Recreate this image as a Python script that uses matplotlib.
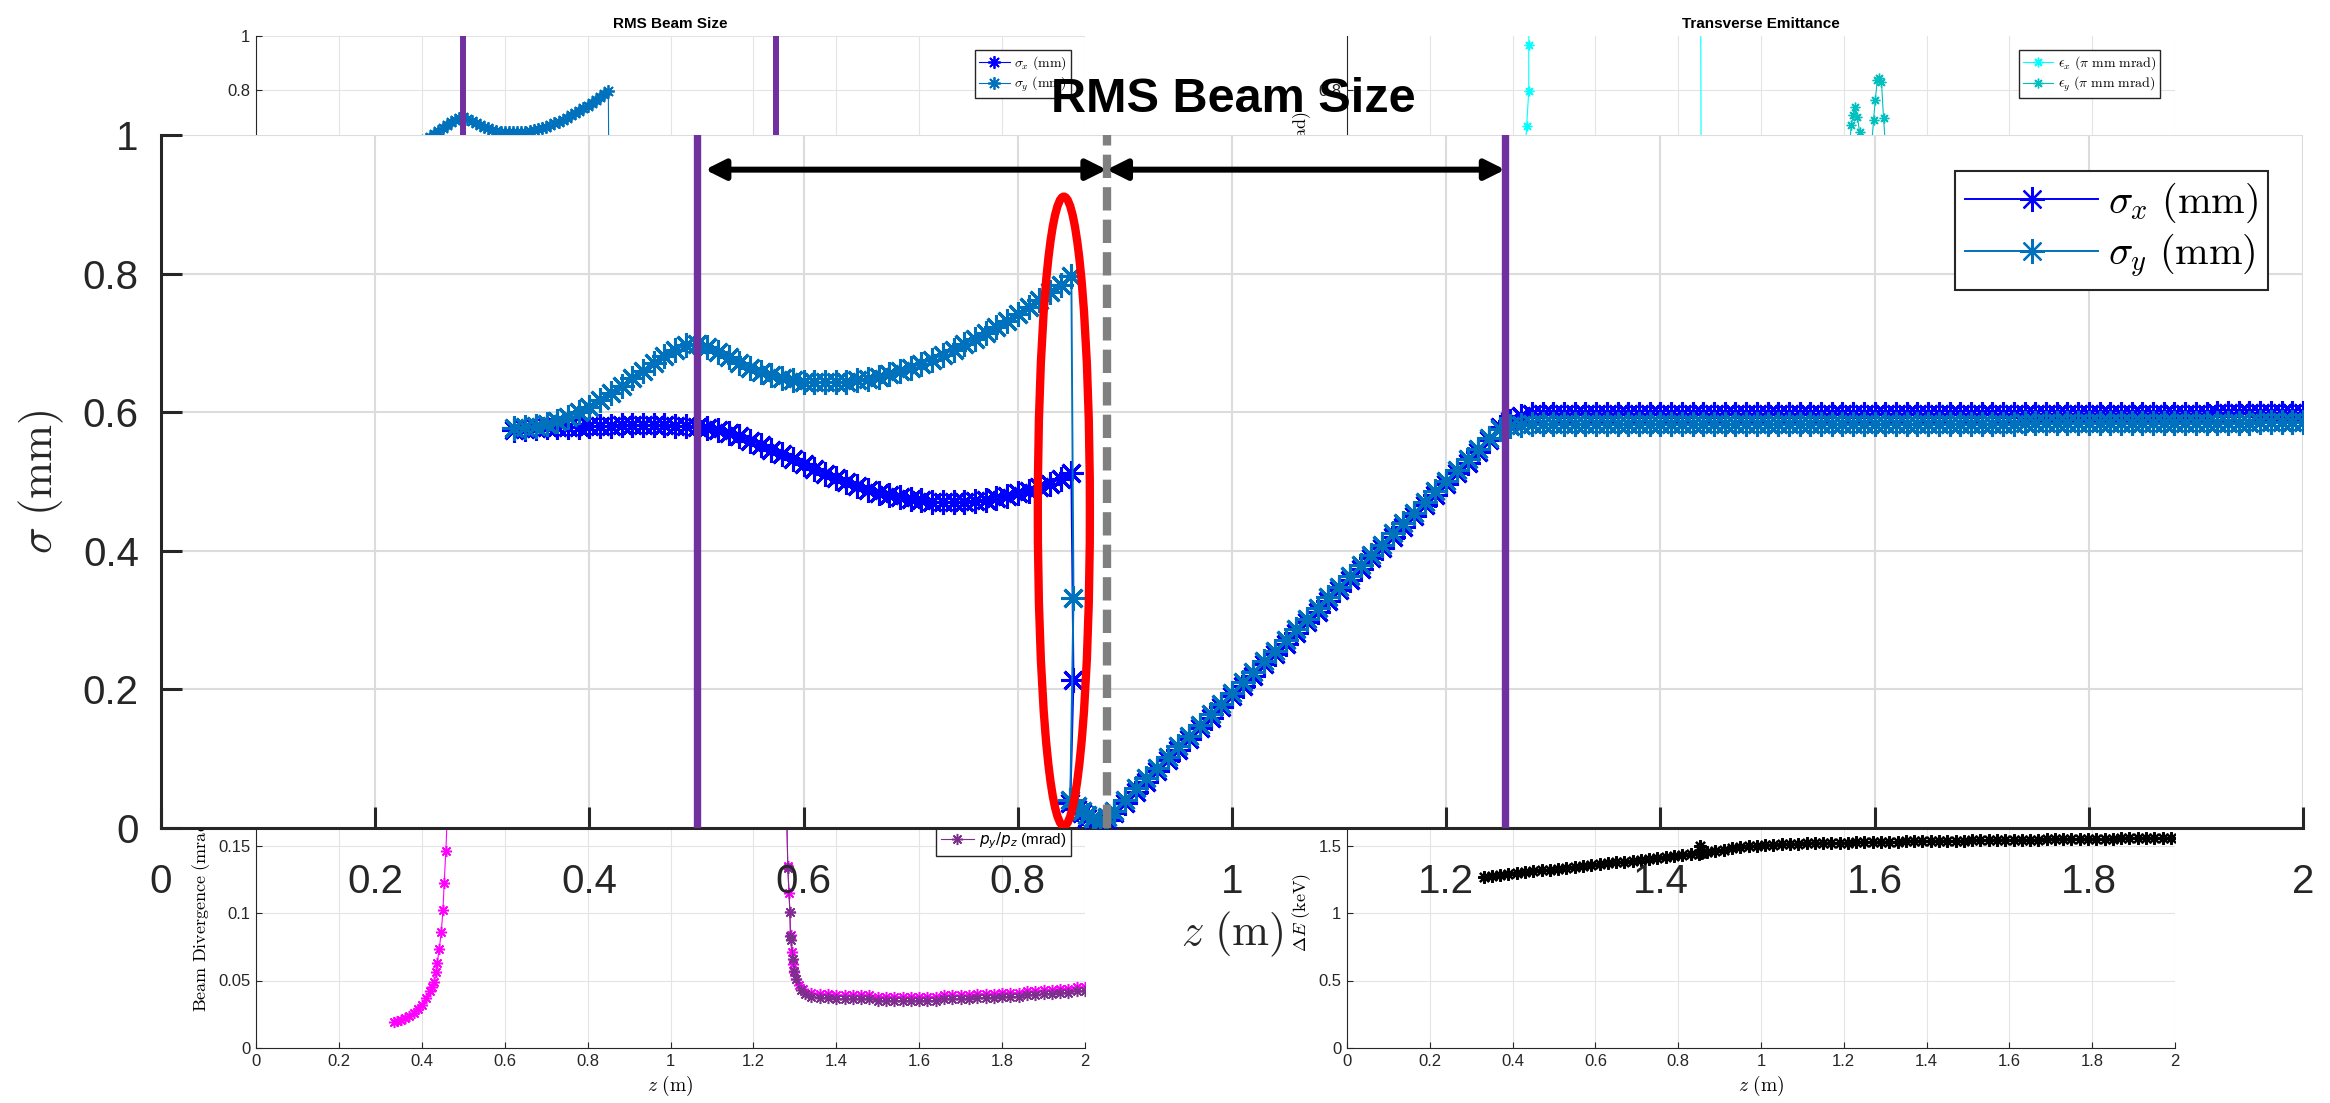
import numpy as np
import matplotlib
matplotlib.use('Agg')
import matplotlib.pyplot as plt
from matplotlib.patches import Ellipse
from matplotlib.ticker import FuncFormatter
from matplotlib.font_manager import FontProperties

plt.rcParams['font.family'] = ['Liberation Sans', 'DejaVu Sans']
plt.rcParams['mathtext.fontset'] = 'cm'

# ---------------- RMS beam size (mm) ----------------
z_focus = [0.33, 0.34, 0.35, 0.36, 0.37, 0.38, 0.39, 0.40, 0.41, 0.42,
           0.43, 0.44, 0.45, 0.46, 0.47, 0.48, 0.49, 0.50, 0.51, 0.52,
           0.53, 0.54, 0.55, 0.56, 0.57, 0.58, 0.59, 0.60, 0.61, 0.62,
           0.63, 0.64, 0.65, 0.66, 0.67, 0.68, 0.69, 0.70, 0.71, 0.72,
           0.73, 0.74, 0.75, 0.76, 0.77, 0.78, 0.79, 0.80, 0.81, 0.82,
           0.83, 0.84, 0.85]
sx_focus = [0.575, 0.576, 0.577, 0.578, 0.578, 0.579, 0.579, 0.580, 0.580, 0.580,
            0.581, 0.581, 0.581, 0.581, 0.581, 0.580, 0.580, 0.579, 0.577, 0.574,
            0.570, 0.565, 0.559, 0.553, 0.546, 0.539, 0.532, 0.525, 0.518, 0.511,
            0.505, 0.499, 0.493, 0.488, 0.484, 0.480, 0.477, 0.475, 0.473, 0.471,
            0.470, 0.470, 0.471, 0.472, 0.474, 0.476, 0.479, 0.483, 0.487, 0.492,
            0.497, 0.504, 0.512]
sy_focus = [0.577, 0.578, 0.580, 0.583, 0.587, 0.593, 0.600, 0.608, 0.617, 0.627,
            0.638, 0.649, 0.660, 0.671, 0.681, 0.690, 0.697, 0.699, 0.694, 0.687,
            0.679, 0.671, 0.664, 0.658, 0.653, 0.649, 0.646, 0.644, 0.643, 0.643,
            0.643, 0.644, 0.646, 0.648, 0.651, 0.655, 0.659, 0.664, 0.670, 0.676,
            0.683, 0.690, 0.698, 0.706, 0.714, 0.723, 0.732, 0.742, 0.752, 0.762,
            0.773, 0.784, 0.796]

z_drop = [0.852, 0.849, 0.855, 0.860, 0.865, 0.870, 0.877, 0.883, 0.890]
sx_drop = [0.213, 0.036, 0.028, 0.021, 0.015, 0.010, 0.005, 0.012, 0.021]
sy_drop = [0.332, 0.040, 0.032, 0.025, 0.019, 0.014, 0.009, 0.016, 0.025]

z_rise = [0.90, 0.91, 0.92, 0.93, 0.94, 0.95, 0.96, 0.97, 0.98, 0.99,
          1.00, 1.01, 1.02, 1.03, 1.04, 1.05, 1.06, 1.07, 1.08, 1.09,
          1.10, 1.11, 1.12, 1.13, 1.14, 1.15, 1.16, 1.17, 1.18, 1.19,
          1.20, 1.21, 1.22, 1.23, 1.24, 1.25]
sx_rise = [0.036, 0.052, 0.067, 0.082, 0.098, 0.113, 0.128, 0.144, 0.159, 0.174,
           0.190, 0.205, 0.220, 0.236, 0.251, 0.266, 0.282, 0.297, 0.312, 0.328,
           0.343, 0.358, 0.374, 0.389, 0.404, 0.420, 0.435, 0.450, 0.466, 0.481,
           0.496, 0.512, 0.527, 0.542, 0.560, 0.578]
sy_rise = [0.041, 0.057, 0.072, 0.087, 0.103, 0.118, 0.133, 0.149, 0.164, 0.179,
           0.195, 0.210, 0.225, 0.241, 0.256, 0.271, 0.287, 0.302, 0.317, 0.333,
           0.348, 0.363, 0.379, 0.394, 0.409, 0.425, 0.440, 0.455, 0.471, 0.486,
           0.501, 0.517, 0.532, 0.547, 0.563, 0.576]

z_flat = [1.26, 1.27, 1.28, 1.29, 1.30, 1.31, 1.32, 1.33, 1.34, 1.35,
          1.36, 1.37, 1.38, 1.39, 1.40, 1.41, 1.42, 1.43, 1.44, 1.45,
          1.46, 1.47, 1.48, 1.49, 1.50, 1.51, 1.52, 1.53, 1.54, 1.55,
          1.56, 1.57, 1.58, 1.59, 1.60, 1.61, 1.62, 1.63, 1.64, 1.65,
          1.66, 1.67, 1.68, 1.69, 1.70, 1.71, 1.72, 1.73, 1.74, 1.75,
          1.76, 1.77, 1.78, 1.79, 1.80, 1.81, 1.82, 1.83, 1.84, 1.85,
          1.86, 1.87, 1.88, 1.89, 1.90, 1.91, 1.92, 1.93, 1.94, 1.95,
          1.96, 1.97, 1.98, 1.99, 2.00]
sx_flat = [0.588, 0.594, 0.597, 0.598, 0.598, 0.598, 0.598, 0.598, 0.598, 0.598,
           0.598, 0.598, 0.597, 0.597, 0.597, 0.597, 0.597, 0.597, 0.597, 0.597,
           0.597, 0.597, 0.597, 0.597, 0.597, 0.597, 0.597, 0.597, 0.597, 0.597,
           0.597, 0.597, 0.597, 0.597, 0.597, 0.597, 0.597, 0.597, 0.597, 0.597,
           0.597, 0.597, 0.597, 0.597, 0.597, 0.597, 0.597, 0.597, 0.597, 0.597,
           0.597, 0.597, 0.597, 0.598, 0.598, 0.598, 0.598, 0.598, 0.598, 0.598,
           0.598, 0.598, 0.598, 0.598, 0.598, 0.598, 0.599, 0.599, 0.599, 0.599,
           0.599, 0.599, 0.599, 0.599, 0.599]
sy_flat = [0.580, 0.582, 0.583, 0.583, 0.583, 0.583, 0.583, 0.583, 0.583, 0.583,
           0.583, 0.583, 0.583, 0.583, 0.583, 0.583, 0.583, 0.583, 0.583, 0.583,
           0.583, 0.583, 0.583, 0.583, 0.583, 0.583, 0.583, 0.583, 0.583, 0.583,
           0.583, 0.583, 0.583, 0.583, 0.583, 0.583, 0.583, 0.583, 0.583, 0.583,
           0.583, 0.583, 0.583, 0.583, 0.583, 0.583, 0.583, 0.583, 0.584, 0.584,
           0.584, 0.584, 0.584, 0.584, 0.584, 0.584, 0.584, 0.584, 0.584, 0.584,
           0.585, 0.585, 0.585, 0.585, 0.585, 0.585, 0.585, 0.585, 0.585, 0.585,
           0.586, 0.586, 0.586, 0.586, 0.586]

z_sigma = z_focus + z_drop + z_rise + z_flat
sigma_x = sx_focus + sx_drop + sx_rise + sx_flat
sigma_y = sy_focus + sy_drop + sy_rise + sy_flat

# element edges, waist position and annotation values
quad_edges = [0.5, 1.255]
z_waist = 0.883
arrow_y = 0.95
arrow_left = 0.508
ellipse_center = (0.843, 0.457)
ellipse_size = (0.0486, 0.908)

# ---------------- transverse emittance ----------------
z_ex = [0.33, 0.36, 0.39, 0.41, 0.42, 0.428, 0.434, 0.439, 0.439, 0.443, 0.60,
        0.853, 0.856, 1.00, 1.30, 1.60, 2.00]
eps_x = [0.08, 0.09, 0.12, 0.20, 0.33, 0.52, 0.667, 0.796, 0.967, 1.35, 2.0,
         2.0, 0.10, 0.09, 0.09, 0.09, 0.09]
z_ey = [0.33, 0.70, 1.10, 1.20, 1.212, 1.218, 1.223, 1.228, 1.233, 1.238, 1.250,
        1.265, 1.272, 1.276, 1.281, 1.286, 1.291, 1.296, 1.305, 1.50, 2.00]
eps_y = [0.08, 0.08, 0.10, 0.30, 0.55, 0.670, 0.707, 0.737, 0.700, 0.644, 0.45,
         0.55, 0.69, 0.763, 0.837, 0.845, 0.830, 0.696, 0.50, 0.12, 0.12]

# ---------------- beam divergence (mrad) ----------------
z_px_rise = [0.333, 0.34, 0.35, 0.36, 0.37, 0.38, 0.39, 0.40, 0.41, 0.42, 0.425,
             0.430, 0.434, 0.437, 0.442, 0.447, 0.451, 0.454, 0.458, 0.462, 0.470]
px_rise = [0.019, 0.020, 0.021, 0.022, 0.024, 0.026, 0.029, 0.032, 0.037, 0.042, 0.045,
           0.049, 0.056, 0.063, 0.073, 0.086, 0.102, 0.122, 0.146, 0.175, 0.260]
z_px_fall = [1.275, 1.280, 1.283, 1.286, 1.288, 1.290, 1.292, 1.295, 1.298, 1.302, 1.31, 1.32]
px_fall = [0.260, 0.175, 0.135, 0.115, 0.101, 0.084, 0.071, 0.062, 0.056, 0.051, 0.047, 0.044]
z_py_fall = [1.275, 1.283, 1.288, 1.289, 1.291, 1.296, 1.298, 1.303, 1.315, 1.325]
py_fall = [0.260, 0.133, 0.101, 0.083, 0.080, 0.066, 0.057, 0.051, 0.043, 0.040]
z_div_flat = [1.34, 1.36, 1.38, 1.40, 1.42, 1.44, 1.46, 1.48, 1.50, 1.52,
              1.54, 1.56, 1.58, 1.60, 1.62, 1.64, 1.66, 1.68, 1.70, 1.72,
              1.74, 1.76, 1.78, 1.80, 1.82, 1.84, 1.86, 1.88, 1.90, 1.92,
              1.94, 1.96, 1.98, 2.00]
px_flat = [0.041, 0.040, 0.040, 0.039, 0.039, 0.039, 0.039, 0.039, 0.038, 0.038,
           0.038, 0.038, 0.038, 0.038, 0.038, 0.038, 0.039, 0.039, 0.039, 0.039,
           0.040, 0.040, 0.040, 0.041, 0.041, 0.041, 0.042, 0.042, 0.043, 0.043,
           0.044, 0.044, 0.045, 0.045]
py_flat = [0.038, 0.037, 0.037, 0.036, 0.036, 0.036, 0.036, 0.036, 0.035, 0.035,
           0.035, 0.035, 0.035, 0.035, 0.035, 0.035, 0.036, 0.036, 0.036, 0.036,
           0.037, 0.037, 0.037, 0.038, 0.038, 0.038, 0.039, 0.039, 0.040, 0.040,
           0.041, 0.041, 0.042, 0.042]

# ---------------- energy spread (keV) ----------------
z_de = [0.33, 0.35, 0.37, 0.39, 0.41, 0.43, 0.45, 0.47, 0.49, 0.51,
        0.53, 0.55, 0.57, 0.59, 0.61, 0.63, 0.65, 0.67, 0.69, 0.71,
        0.73, 0.75, 0.77, 0.79, 0.81, 0.83, 0.85, 0.852, 0.856,
        0.87, 0.89, 0.91, 0.93, 0.95, 0.97, 0.99, 1.01, 1.03, 1.05,
        1.07, 1.09, 1.11, 1.13, 1.15, 1.17, 1.19, 1.21, 1.23, 1.25,
        1.27, 1.29, 1.31, 1.33, 1.35, 1.37, 1.39, 1.41, 1.43, 1.45,
        1.47, 1.49, 1.51, 1.53, 1.55, 1.57, 1.59, 1.61, 1.63, 1.65,
        1.67, 1.69, 1.71, 1.73, 1.75, 1.77, 1.79, 1.81, 1.83, 1.85,
        1.87, 1.89, 1.91, 1.93, 1.95, 1.97, 1.99]
delta_e = [1.270, 1.277, 1.283, 1.290, 1.296, 1.303, 1.309, 1.316, 1.322, 1.329,
           1.335, 1.342, 1.348, 1.355, 1.362, 1.368, 1.375, 1.381, 1.388, 1.394,
           1.401, 1.408, 1.414, 1.421, 1.427, 1.434, 1.440, 1.500, 1.443,
           1.450, 1.460, 1.470, 1.480, 1.488, 1.494, 1.499, 1.503, 1.506, 1.509,
           1.511, 1.513, 1.515, 1.517, 1.518, 1.520, 1.521, 1.522, 1.524, 1.525,
           1.526, 1.527, 1.528, 1.529, 1.530, 1.531, 1.532, 1.533, 1.534, 1.535,
           1.536, 1.537, 1.538, 1.538, 1.539, 1.540, 1.541, 1.542, 1.542, 1.543,
           1.544, 1.545, 1.546, 1.546, 1.547, 1.548, 1.549, 1.550, 1.551, 1.551,
           1.552, 1.553, 1.554, 1.555, 1.556, 1.557, 1.558]

z_ticks = [0, 0.2, 0.4, 0.6, 0.8, 1.0, 1.2, 1.4, 1.6, 1.8, 2.0]

BLUE = '#0000FF'
STEEL = '#0072BD'
PURPLE = '#7030A0'
MAGENTA = '#FF00FF'
PLUM = '#7E2F8E'
CYAN = '#00FFFF'
TEAL = '#00BFBF'
AXC = '#262626'
AST = (8, 2, 0)   # asterisk marker, + and x combined
fmt = FuncFormatter(lambda v, p: f'{v:g}')

W, H = 2330, 1103
fig = plt.figure(figsize=(W / 100, H / 100), dpi=100)


def px_box(x0, y0, x1, y1):
    return [x0 / W, 1 - y1 / H, (x1 - x0) / W, (y1 - y0) / H]


def small_axes(rect, ylim, yticks):
    ax = fig.add_axes(px_box(*rect))
    ax.set_xlim(0, 2)
    ax.set_ylim(*ylim)
    ax.set_xticks(z_ticks)
    ax.set_yticks(yticks)
    ax.xaxis.set_major_formatter(fmt)
    ax.yaxis.set_major_formatter(fmt)
    ax.tick_params(direction='in', length=4, width=0.8, labelsize=12,
                   color=AXC, labelcolor=AXC, pad=4)
    ax.grid(True, color='#e4e4e4', lw=0.8)
    for s in ['top', 'right']:
        ax.spines[s].set_visible(False)
    for s in ['left', 'bottom']:
        ax.spines[s].set_linewidth(0.8)
        ax.spines[s].set_color(AXC)
    return ax


small_leg = dict(fancybox=False, edgecolor=AXC, framealpha=1, borderaxespad=0,
                 handlelength=2.2, handletextpad=0.3, borderpad=0.3, labelspacing=0.2)

# top left: beam size overview
ax1 = small_axes((256, 36, 1085, 306), (0, 1), [0, 0.2, 0.4, 0.6, 0.8, 1.0])
ax1.plot(z_sigma, sigma_x, color=BLUE, marker=AST, ms=9, mew=1.3, lw=0.8,
         label=r'$\sigma_x\ (\mathrm{mm})$')
ax1.plot(z_sigma, sigma_y, color=STEEL, marker=AST, ms=9, mew=1.3, lw=0.8,
         label=r'$\sigma_y\ (\mathrm{mm})$')
for zq in quad_edges:
    ax1.axvline(zq, color=PURPLE, lw=4.3)
ax1.set_title('RMS Beam Size', fontsize=11, fontweight='bold', color='k', pad=6)
ax1.legend(loc='upper right', bbox_to_anchor=(0.983, 0.948), fontsize=10, **small_leg)

# top right: transverse emittance
ax2 = small_axes((1347, 36, 2175, 306), (0, 1), [0, 0.2, 0.4, 0.6, 0.8])
ax2.plot(z_ex, eps_x, color=CYAN, marker=AST, ms=7, mew=1.0, lw=0.8,
         label=r'$\epsilon_x\ (\pi\ \mathrm{mm\ mrad})$')
ax2.plot(z_ey, eps_y, color=TEAL, marker=AST, ms=7, mew=1.0, lw=0.8,
         label=r'$\epsilon_y\ (\pi\ \mathrm{mm\ mrad})$')
ax2.set_ylabel(r'$\epsilon\ (\pi\ \mathrm{mm\ mrad})$', fontsize=13)
ax2.set_title('Transverse Emittance', fontsize=11, fontweight='bold', color='k', pad=6)
ax2.legend(loc='upper right', bbox_to_anchor=(0.982, 0.948), fontsize=10, **small_leg)

# bottom left: beam divergence
ax3 = small_axes((256, 778, 1085, 1048), (0, 0.2), [0, 0.05, 0.1, 0.15, 0.2])
ax3.plot(z_px_rise + z_px_fall + z_div_flat, px_rise + px_fall + px_flat,
         color=MAGENTA, marker=AST, ms=8, mew=1.1, lw=0.8, label=r'$p_x/p_z$ (mrad)')
ax3.plot(z_py_fall + z_div_flat, py_fall + py_flat,
         color=PLUM, marker=AST, ms=8, mew=1.1, lw=0.8, label=r'$p_y/p_z$ (mrad)')
ax3.set_xlabel(r'$z\ (\mathrm{m})$', fontsize=14)
ax3.set_ylabel(r'$\mathrm{Beam\ Divergence\ (mrad)}$', fontsize=13)
ax3.legend(loc='lower right', bbox_to_anchor=(0.983, 0.711),
           prop=FontProperties(family='Liberation Sans', size=11, math_fontfamily='dejavusans'),
           **small_leg)

# bottom right: energy spread
ax4 = small_axes((1347, 778, 2175, 1048), (0, 2), [0, 0.5, 1.0, 1.5, 2.0])
ax4.plot(z_de, delta_e, color='k', marker=AST, ms=9, mew=1.6, lw=0.8)
ax4.set_xlabel(r'$z\ (\mathrm{m})$', fontsize=14)
ax4.set_ylabel(r'$\Delta E\ (\mathrm{keV})$', fontsize=13)

# main panel on top
ax = fig.add_axes(px_box(161, 135, 2303, 828), zorder=5)
ax.set_facecolor('white')
ax.plot(z_sigma, sigma_x, color=BLUE, marker=AST, ms=18, mew=2.2, lw=1.4,
        label=r'$\sigma_x\ (\mathrm{mm})$', zorder=3)
ax.plot(z_sigma, sigma_y, color=STEEL, marker=AST, ms=18, mew=2.2, lw=1.4,
        label=r'$\sigma_y\ (\mathrm{mm})$', zorder=3)
for zq in quad_edges:
    ax.axvline(zq, color=PURPLE, lw=5.3, zorder=4)
ax.plot([z_waist, z_waist], [0, 1], color='#808080', lw=6, dashes=(2.8, 1.1), zorder=5)
ax.add_patch(Ellipse(ellipse_center, ellipse_size[0], ellipse_size[1], fill=False,
                     ec='#FF0000', lw=6, zorder=6))
arrow_style = dict(arrowstyle='<|-|>,head_length=1.2,head_width=0.6', mutation_scale=10,
                   lw=4.3, color='k', shrinkA=0, shrinkB=0)
ax.annotate('', xy=(z_waist, arrow_y), xytext=(arrow_left, arrow_y),
            arrowprops=arrow_style, zorder=7)
ax.annotate('', xy=(quad_edges[1], arrow_y), xytext=(z_waist, arrow_y),
            arrowprops=arrow_style, zorder=7)

ax.set_xlim(0, 2)
ax.set_ylim(0, 1)
ax.set_xticks(z_ticks)
ax.set_yticks([0, 0.2, 0.4, 0.6, 0.8, 1.0])
ax.xaxis.set_major_formatter(fmt)
ax.yaxis.set_major_formatter(fmt)
ax.tick_params(direction='in', length=15, width=2.2, labelsize=29, color=AXC, labelcolor=AXC)
ax.tick_params(axis='x', pad=25)
ax.tick_params(axis='y', pad=16)
ax.grid(True, color='#dcdcdc', lw=1.5)
for s in ['top', 'right']:
    ax.spines[s].set_visible(False)
for s in ['left', 'bottom']:
    ax.spines[s].set_linewidth(2.2)
    ax.spines[s].set_color(AXC)

ax.set_xlabel(r'$z\ (\mathrm{m})$', fontsize=32, color=AXC)
ax.xaxis.set_label_coords(0.5, -0.118)
ax.set_ylabel(r'$\sigma\ (\mathrm{mm})$', fontsize=32, color=AXC)
ax.yaxis.set_label_coords(-0.056, 0.5)
ax.yaxis.label.set_va('center')

leg = ax.legend(loc='upper right', bbox_to_anchor=(0.9837, 0.948), borderaxespad=0,
                fontsize=29, fancybox=False, edgecolor=AXC, framealpha=1,
                handlelength=3.3, handletextpad=0.25, borderpad=0.25, labelspacing=0.15)
leg.get_frame().set_linewidth(1.5)
for h in leg.legend_handles:
    h.set_markeredgewidth(1.6)

fig.text(1233 / W, 1 - 112 / H, 'RMS Beam Size', fontsize=35, fontweight='bold',
         ha='center', va='baseline', color='k', zorder=10)

fig.savefig('out.png', dpi=100)
